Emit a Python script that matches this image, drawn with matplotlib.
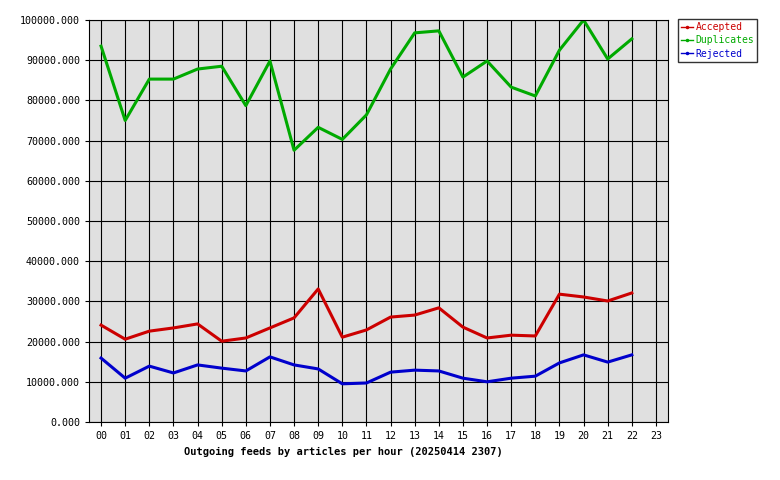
import matplotlib
matplotlib.use('Agg')
import matplotlib.pyplot as plt

hours = [f"{h:02d}" for h in range(24)]
accepted = [24100, 20600, 22600, 23400, 24400, 20100, 20900, 23400, 25900, 33100, 21100, 22900,
            26100, 26600, 28400, 23600, 20900, 21600, 21400, 31800, 31100, 30100, 32100]
duplicates = [93500, 75000, 85300, 85300, 87800, 88500, 78700, 89800, 67600, 73300, 70300, 76400,
              87800, 96800, 97300, 85800, 89800, 83300, 81100, 92500, 100000, 90300, 95300]
rejected = [15900, 10900, 13900, 12200, 14200, 13400, 12700, 16200, 14200, 13200, 9500, 9700,
            12400, 12900, 12700, 10900, 10000, 10900, 11400, 14700, 16700, 14900, 16700]

plt.rcParams['font.family'] = 'DejaVu Sans Mono'
plt.rcParams['font.size'] = 7.2

fig = plt.figure(figsize=(7.8, 4.8), dpi=100)
ax = fig.add_axes([89/780, 1-422/480, (668-89)/780, (422-20)/480])
ax.set_facecolor('#e0e0e0')

x = list(range(len(accepted)))
ax.plot(x, accepted, color='#cc0000', lw=2.2, label='Accepted')
ax.plot(x, duplicates, color='#00aa00', lw=2.2, label='Duplicates')
ax.plot(x, rejected, color='#0000cc', lw=2.2, label='Rejected')

ax.set_xlim(-0.5, 23.5)
ax.set_ylim(0, 100000)
ax.set_xticks(range(24))
ax.set_xticklabels(hours)
ax.set_yticks(range(0, 100001, 10000))
ax.set_yticklabels([f"{v}.000" for v in range(0, 100001, 10000)])
ax.grid(True, color='black', lw=0.8)
ax.set_axisbelow(True)
ax.tick_params(length=3)
fig.text(343/780, 1-452/480, 'Outgoing feeds by articles per hour (20250414 2307)',
         fontweight='bold', ha='center', va='center', fontsize=7.5)

leg = fig.legend(loc='upper left', bbox_to_anchor=(678/780, 1-19/480), fancybox=False,
                 edgecolor='black', handlelength=1.2, handletextpad=0.3, borderpad=0.3,
                 labelspacing=0.35, fontsize=7, borderaxespad=0)
for t, c in zip(leg.get_texts(), ['#cc0000', '#00aa00', '#0000cc']):
    t.set_color(c)
for l in leg.get_lines():
    l.set_linewidth(1)
    l.set_marker('.')
    l.set_markersize(3)

fig.savefig('out.png', dpi=100)
